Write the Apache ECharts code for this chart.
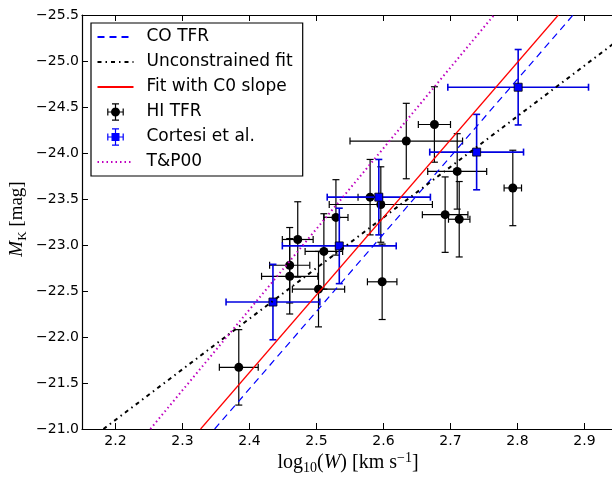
<!DOCTYPE html>
<html>
<head>
<meta charset="utf-8">
<script src="https://cdn.jsdelivr.net/npm/echarts@6/dist/echarts.min.js"></script>
<style>html,body{margin:0;padding:0;background:#fff}#c{width:612px;height:477px}</style>
</head>
<body>
<div id="c"></div>
<script>
// ---- data ----
const xTickValues = [2.2, 2.3, 2.4, 2.5, 2.6, 2.7, 2.8, 2.9];
const yTickValues = [-25.5, -25.0, -24.5, -24.0, -23.5, -23.0, -22.5, -22.0, -21.5, -21.0];

// HI TFR
const hiX    = [2.384, 2.460, 2.460, 2.472, 2.503, 2.511, 2.529, 2.580, 2.596, 2.598, 2.634, 2.676, 2.692, 2.710, 2.713, 2.793];
const hiY    = [-21.67, -22.78, -22.66, -23.06, -22.52, -22.93, -23.30, -23.52, -23.44, -22.60, -24.13, -24.31, -23.33, -23.80, -23.28, -23.62];
const hiXerr = [0.029, 0.030, 0.042, 0.023, 0.039, 0.028, 0.018, 0.018, 0.077, 0.022, 0.084, 0.024, 0.034, 0.044, 0.016, 0.013];
const hiYerr = [0.41, 0.41, 0.41, 0.41, 0.41, 0.41, 0.41, 0.41, 0.41, 0.41, 0.41, 0.41, 0.41, 0.41, 0.41, 0.41];

// Cortesi et al.
const coX    = [2.435, 2.534, 2.593, 2.739, 2.801];
const coY    = [-22.38, -22.99, -23.52, -24.01, -24.715];
const coXerr = [0.070, 0.085, 0.077, 0.070, 0.105];
const coYerr = [0.41, 0.41, 0.41, 0.41, 0.41];

// relations (end points where they leave the frame)
const coTfrX  = [2.348, 2.883];  const coTfrY  = [-21.0, -25.5];
const unconX  = [2.182, 2.950];  const unconY  = [-21.0, -25.225];
const c0FitX  = [2.327, 2.861];  const c0FitY  = [-21.0, -25.5];
const tp00X   = [2.252, 2.765];  const tp00Y   = [-21.0, -25.5];

// ---- chart ----
const pairs = (xs, ys) => xs.map((x, i) => [x, ys[i]]);
const errData = (xs, ys, ex, ey) => xs.map((x, i) => [x, ys[i], ex[i], ey[i]]);
const minus = v => v.toFixed(1).replace('-', '\u2212');

function errRender(kind, color) {
  return function (params, api) {
    const x = api.value(0), y = api.value(1), ex = api.value(2), ey = api.value(3);
    const c = api.coord([x, y]);
    const l = api.coord([x - ex, y]), r = api.coord([x + ex, y]);
    const t = api.coord([x, y - ey]), b = api.coord([x, y + ey]);
    const cap = 3.5, lw = kind === 'circle' ? 1.2 : 1.6;
    const ls = { stroke: color, lineWidth: lw, fill: null };
    const ln = (x1, y1, x2, y2) => ({ type: 'line', shape: { x1, y1, x2, y2 }, style: ls });
    const children = [
      ln(l[0], c[1], r[0], c[1]),
      ln(c[0], t[1], c[0], b[1]),
      ln(l[0], c[1] - cap, l[0], c[1] + cap),
      ln(r[0], c[1] - cap, r[0], c[1] + cap),
      ln(c[0] - cap, t[1], c[0] + cap, t[1]),
      ln(c[0] - cap, b[1], c[0] + cap, b[1])
    ];
    if (kind === 'circle') {
      children.push({ type: 'circle', shape: { cx: c[0], cy: c[1], r: 4.5 }, style: { fill: '#000' } });
    } else {
      children.push({ type: 'rect', shape: { x: c[0] - 4, y: c[1] - 4, width: 8, height: 8 }, style: { fill: '#0000ff', stroke: '#000', lineWidth: 0.8 } });
    }
    return { type: 'group', children };
  };
}

const corners = 'M0 0h0.01v0.01h-0.01z M35.99 17.99h0.01v0.01h-0.01z ';
const bars = 'M9.7 8.4h16.6v1.2h-16.6z M9.7 5.5h1.2v7h-1.2z M25.1 5.5h1.2v7h-1.2z M17.4 0.3h1.2v17.4h-1.2z M14.5 0.3h7v1.2h-7z M14.5 16.5h7v1.2h-7z ';
const hiIcon = 'path://' + corners + bars + 'M13.5 9a4.5 4.5 0 1 1 9 0a4.5 4.5 0 1 1 -9 0z';
const coIcon = 'path://' + corners + bars + 'M14 5h8v8h-8z';
const noSym = { color: 'rgba(0,0,0,0)', borderWidth: 0, opacity: 0 };

const chart = echarts.init(document.getElementById('c'), null, { renderer: 'canvas' });
const tickFont = { fontFamily: 'DejaVu Sans', fontSize: 14, color: '#000' };

chart.setOption({
  animation: false,
  backgroundColor: '#fff',
  grid: { left: 82, top: 15, width: 536, height: 414, containLabel: false, outerBoundsMode: 'none' },
  xAxis: [{
    type: 'value', min: 2.15, max: 2.95, position: 'bottom',
    axisLine: { show: true, onZero: false, lineStyle: { color: '#000', width: 1.2 } },
    axisTick: { inside: true, length: 6, customValues: xTickValues, lineStyle: { color: '#000', width: 1 } },
    axisLabel: Object.assign({ customValues: xTickValues, margin: 5, formatter: v => v.toFixed(1) }, tickFont),
    splitLine: { show: false }
  }, {
    type: 'value', min: 2.15, max: 2.95, position: 'top',
    axisLine: { show: true, onZero: false, lineStyle: { color: '#000', width: 1.2 } },
    axisTick: { inside: true, length: 6, customValues: xTickValues, lineStyle: { color: '#000', width: 1 } },
    axisLabel: { show: false },
    splitLine: { show: false }
  }],
  yAxis: [{
    type: 'value', min: -25.5, max: -21.0, inverse: true, position: 'left',
    axisLine: { show: true, onZero: false, lineStyle: { color: '#000', width: 1.2 } },
    axisTick: { inside: true, length: 6, customValues: yTickValues, lineStyle: { color: '#000', width: 1 } },
    axisLabel: Object.assign({ customValues: yTickValues, margin: 3, formatter: v => minus(v) }, tickFont),
    splitLine: { show: false }
  }],
  legend: {
    orient: 'vertical', left: 91, top: 23,
    itemWidth: 36, itemHeight: 18, itemGap: 7,
    padding: [5, 10, 5, 5.5],
    backgroundColor: '#fff', borderColor: '#000', borderWidth: 1.2, borderRadius: 0,
    textStyle: { fontFamily: 'DejaVu Sans', fontSize: 17, color: '#000', lineHeight: 18, rich: { p: { width: 8 } } },
    formatter: name => '{p|}' + name,
    data: [
      { name: 'CO TFR', itemStyle: noSym },
      { name: 'Unconstrained fit', itemStyle: noSym },
      { name: 'Fit with C0 slope', itemStyle: noSym },
      { name: 'HI TFR', icon: hiIcon, itemStyle: { color: '#000', borderWidth: 0 } },
      { name: 'Cortesi et al.', icon: coIcon, itemStyle: { color: '#0000ff', borderWidth: 0 } },
      { name: 'T&P00', itemStyle: noSym }
    ]
  },
  series: [
    { name: 'HI TFR', type: 'custom', z: 3, itemStyle: { color: '#000' },
      renderItem: errRender('circle', '#000'), encode: { x: 0, y: 1 },
      data: errData(hiX, hiY, hiXerr, hiYerr) },
    { name: 'Cortesi et al.', type: 'custom', z: 4, itemStyle: { color: '#0000ff' },
      renderItem: errRender('rect', '#0000e0'), encode: { x: 0, y: 1 },
      data: errData(coX, coY, coXerr, coYerr) },
    { name: 'CO TFR', type: 'line', z: 5, symbol: 'none', clip: true,
      lineStyle: { color: '#0000ff', width: 1.2, type: [7, 5] }, itemStyle: { color: '#0000ff' },
      data: pairs(coTfrX, coTfrY) },
    { name: 'Unconstrained fit', type: 'line', z: 5, symbol: 'none', clip: true,
      lineStyle: { color: '#000', width: 2, type: [4, 4, 1.5, 4] }, itemStyle: { color: '#000' },
      data: pairs(unconX, unconY) },
    { name: 'Fit with C0 slope', type: 'line', z: 5, symbol: 'none', clip: true,
      lineStyle: { color: '#ff0000', width: 1.2 }, itemStyle: { color: '#ff0000' },
      data: pairs(c0FitX, c0FitY) },
    { name: 'T&P00', type: 'line', z: 5, symbol: 'none', clip: true,
      lineStyle: { color: '#bf00bf', width: 2, type: [1.5, 3] }, itemStyle: { color: '#bf00bf' },
      data: pairs(tp00X, tp00Y) }
  ],
  graphic: [
    { type: 'text', x: 348, y: 463, z: 10,
      style: { text: '{r|log}{s|10}{r|(}{i|W}{r|) [km s}{u|\u22121}{r|]}', align: 'center', verticalAlign: 'middle',
        rich: {
          r: { fontFamily: 'Liberation Serif', fontSize: 20, lineHeight: 24, fill: '#000' },
          i: { fontFamily: 'Liberation Serif', fontStyle: 'italic', fontSize: 20, lineHeight: 24, fill: '#000' },
          s: { fontFamily: 'Liberation Serif', fontSize: 14, lineHeight: 14, verticalAlign: 'bottom', fill: '#000' },
          u: { fontFamily: 'Liberation Serif', fontSize: 14, lineHeight: 14, verticalAlign: 'top', fill: '#000' }
        } } },
    { type: 'text', x: 17, y: 219, rotation: Math.PI / 2, z: 10,
      style: { text: '{i|M}{s|K}{r| [mag]}', align: 'center', verticalAlign: 'middle',
        rich: {
          r: { fontFamily: 'Liberation Serif', fontSize: 19, lineHeight: 24, fill: '#000' },
          i: { fontFamily: 'Liberation Serif', fontStyle: 'italic', fontSize: 19, lineHeight: 24, fill: '#000' },
          s: { fontFamily: 'Liberation Serif', fontSize: 13, lineHeight: 13, verticalAlign: 'bottom', fill: '#000' }
        } } }
  ]
});
</script>
</body>
</html>
